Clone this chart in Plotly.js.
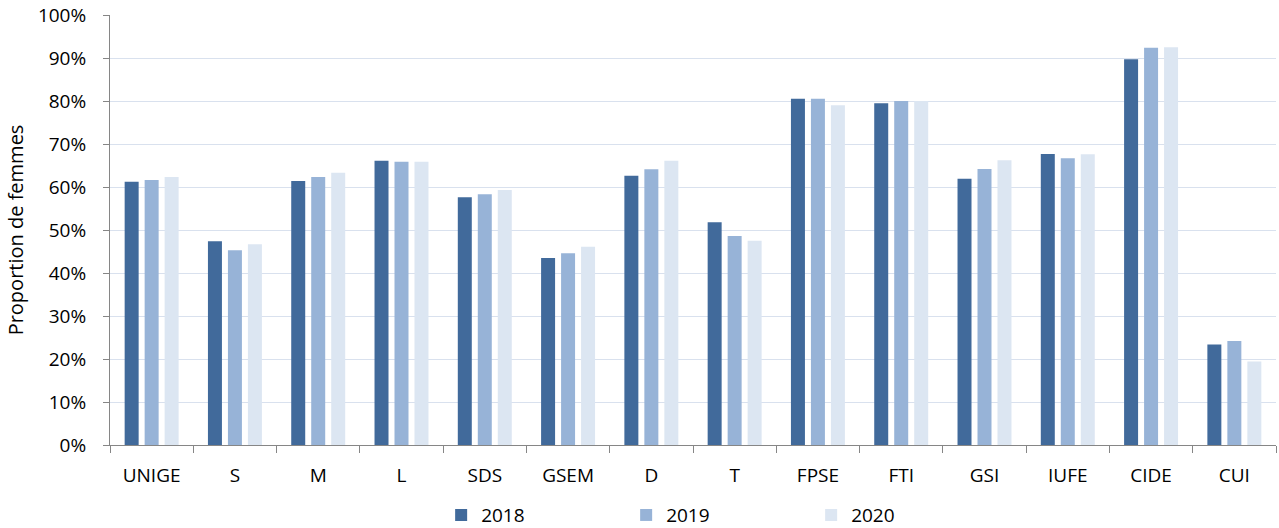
<!DOCTYPE html>
<html><head><meta charset="utf-8">
<script src="https://cdn.plot.ly/plotly-3.0.1.min.js"></script>
<style>body{margin:0;background:#fff}#chart{width:1279px;height:528px}</style>
</head><body><div id="chart"></div>
<script>
const categories = ["UNIGE","S","M","L","SDS","GSEM","D","T","FPSE","FTI","GSI","IUFE","CIDE","CUI"];
const y2018 = [61.2,47.4,61.4,66.1,57.6,43.5,62.6,51.8,80.5,79.5,61.9,67.7,89.7,23.4];
const y2019 = [61.6,45.3,62.3,65.9,58.3,44.6,64.1,48.6,80.5,80.0,64.2,66.7,92.4,24.2];
const y2020 = [62.3,46.7,63.3,65.9,59.3,46.1,66.1,47.5,79.0,80.0,66.2,67.6,92.5,19.4];
const seriesNames = ["2018","2019","2020"];
const colors = ["#416A9B","#97B3D7","#DCE6F2"];
const vals = [y2018,y2019,y2020];
const data = vals.map((v,i)=>({type:"bar",name:seriesNames[i],x:categories,y:v.map(d=>d/100),
  marker:{color:colors[i]},hoverinfo:"skip"}));
const font = "'Open Sans', sans-serif";
Plotly.newPlot("chart",data,{
  width:1279,height:528,
  margin:{l:110,r:3,t:15,b:83,autoexpand:false},
  paper_bgcolor:"#fff",plot_bgcolor:"#fff",
  barmode:"group",bargap:0.28,bargroupgap:0.3,
  font:{family:font,size:19,color:"#000"},
  xaxis:{type:"category",showline:true,linecolor:"#868686",linewidth:1,ticks:"outside",tickson:"boundaries",
    ticklen:7,tickcolor:"#868686",showgrid:false,tickfont:{size:19},automargin:false,ticklabelstandoff:13},
  yaxis:{range:[0,1],tickformat:".0%",dtick:0.1,showline:true,linecolor:"#868686",ticks:"outside",ticklen:6,
    tickcolor:"#868686",gridcolor:"#D9E1EE",gridwidth:1,zeroline:false,tickfont:{size:19},automargin:false,
    ticklabelstandoff:13,
    title:{text:"Proportion de femmes",font:{size:20},standoff:8}},
  legend:{orientation:"h",x:0.284,xanchor:"left",y:-0.163,yanchor:"middle",font:{size:19},
    entrywidth:140,entrywidthmode:"pixels",itemwidth:30}
},{displayModeBar:false,staticPlot:true});
</script></body></html>
